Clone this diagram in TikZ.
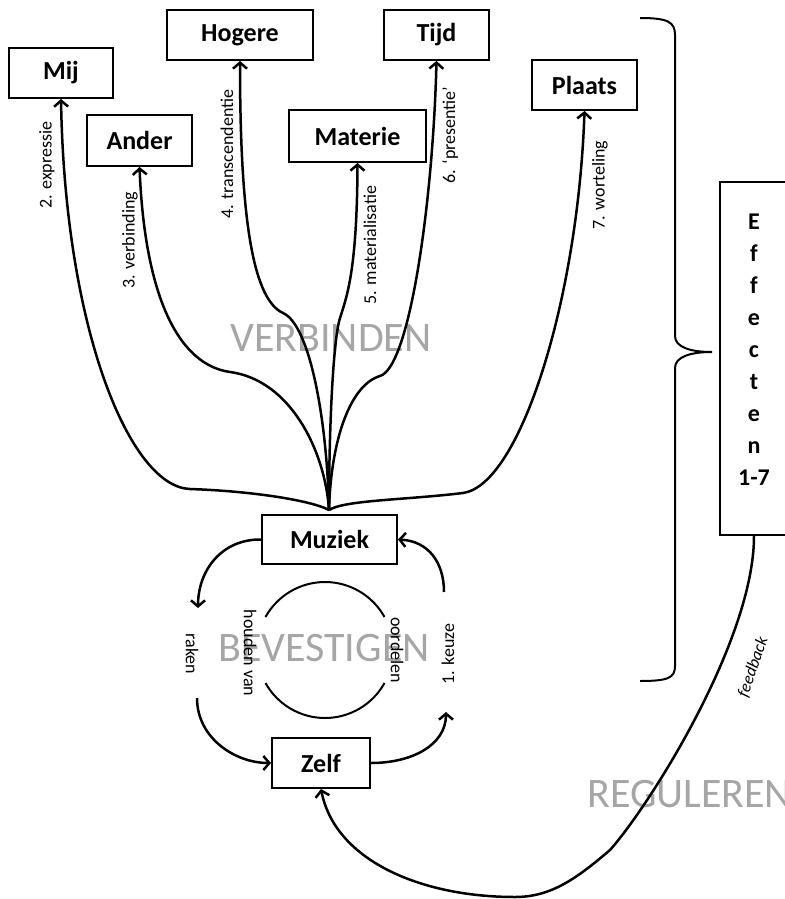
\documentclass[tikz,border=0pt]{standalone}
\usepackage{fontspec}
\setmainfont{Carlito}
\usetikzlibrary{arrows.meta}
\definecolor{biggray}{HTML}{A6A6A6}
\begin{document}
\begin{tikzpicture}[x=1pt,y=-1pt,
  box/.style={draw,line width=2pt,inner sep=0pt,font=\fontsize{26}{30}\selectfont\bfseries},
  lbl/.style={font=\fontsize{18}{20}\selectfont,inner sep=0pt},
  fblbl/.style={font=\fontsize{17}{20}\selectfont\itshape,inner sep=0pt},
  big/.style={font=\fontsize{42}{48}\selectfont,text=biggray,inner sep=0pt},
  conn/.style={line width=2.5pt},
  arr/.style={conn,-{Straight Barb[length=6pt,width=14pt]}},
  thinline/.style={line width=2pt}
]
\useasboundingbox (0,0) rectangle (784,899);

% background words
\node[big] (verb) at (331,338) {VERBINDEN};
\node[big] (bev) at (324,648) {BEVESTIGEN};
\node[big,anchor=west] (reg) at (587,794) {REGULEREN};

% boxes
\node[box,minimum width=104pt,minimum height=50pt] (mij) at (61,73) {Mij};
\node[box,minimum width=146pt,minimum height=50pt] (hogere) at (240,35) {Hogere};
\node[box,minimum width=105pt,minimum height=51pt] (ander) at (139.5,140.5) {Ander};
\node[box,minimum width=137pt,minimum height=52pt] (materie) at (357.5,136) {Materie};
\node[box,minimum width=105pt,minimum height=50pt] (tijd) at (436.5,35) {Tijd};
\node[box,minimum width=105pt,minimum height=50pt] (plaats) at (584.5,85) {Plaats};
\node[box,minimum width=135pt,minimum height=49pt] (muziek) at (329.5,539.5) {Muziek};
\node[box,minimum width=98pt,minimum height=50pt] (zelf) at (321,763) {Zelf};

% effecten box
\node[draw,line width=2pt,inner sep=0pt,minimum width=80pt,minimum height=353pt] (eff) at (760,358.5) {};
\node[font=\fontsize{24}{32}\selectfont\bfseries,align=center,inner sep=0pt] (efftext) at (754,350)
  {E\\f\\f\\e\\c\\t\\e\\n\\1-7};

% brace
\draw[thinline] (640,18) .. controls (668,18) and (675,22) .. (675,35) -- (675,336)
  .. controls (675,347) and (690,352) .. (712,352)
  .. controls (690,352) and (675,357) .. (675,368) -- (675,666)
  .. controls (675,678) and (668,681) .. (640,681);

% hub connectors
\coordinate (hub) at (329,510);
\draw[arr] (hub) .. controls (310,500) and (250,491) .. (190,489) .. controls (130,487) and (65,330) .. (mij.south);
\draw[arr] (hub) .. controls (325,450) and (290,380) .. (230,372) .. controls (180,365) and (145,300) .. (ander.south);
\draw[arr] (hub) .. controls (327,420) and (310,325) .. (283,313) .. controls (255,300) and (240,230) .. (hogere.south);
\draw[arr] (hub) .. controls (329,430) and (333,340) .. (340,318) .. controls (347,296) and (357,270) .. (materie.south);
\draw[arr] (hub) .. controls (331,440) and (350,385) .. (380,376) .. controls (410,367) and (433,200) .. (tijd.south);
\draw[arr] (hub) .. controls (345,500) and (405,500) .. (463,493) .. controls (520,485) and (578,300) .. (plaats.south);

% connector labels
\node[lbl,rotate=90] (l2) at (47,165) {2. expressie};
\node[lbl,rotate=90] (l3) at (130,240) {3. verbinding};
\node[lbl,rotate=90] (l4) at (227,154) {4. transcendentie};
\node[lbl,rotate=90] (l5) at (370,245) {5. materialisatie};
\node[lbl,rotate=90] (l6) at (450,135) {6. ‘presentie’};
\node[lbl,rotate=90] (l7) at (600,185) {7. worteling};

% cycle
\coordinate (rakTop) at (198,608);
\coordinate (rakBot) at (197,698);
\coordinate (keuTop) at (444,592);
\coordinate (keuBot) at (446,712);
\draw[arr] (muziek.west) .. controls (222,539) and (198,570) .. (rakTop);
\draw[arr] (rakBot) .. controls (197,738) and (235,763) .. (zelf.west);
\draw[arr] (zelf.east) .. controls (412,763) and (446,745) .. (keuBot);
\draw[arr] (keuTop) .. controls (444,562) and (428,541) .. (muziek.east);

% inner arcs
\draw[thinline] (265.5,617) .. controls (277.5,595.4) and (300.3,582) .. (325,582)
  .. controls (349.7,582) and (372.5,595.4) .. (384.5,617);
\draw[thinline] (265.5,683) .. controls (277.5,704.6) and (300.3,718) .. (325,718)
  .. controls (349.7,718) and (372.5,704.6) .. (384.5,683);

\node[lbl,rotate=-90] (raken) at (192,654) {raken};
\node[lbl,rotate=-90] (houden) at (250,653) {houden van};
\node[lbl,rotate=-90] (oordelen) at (397,650) {oordelen};
\node[lbl,rotate=90] (keuze) at (448,654) {1. keuze};

% feedback
\draw[arr] (eff.south -| efftext.center) .. controls (754,640) and (650,805) .. (610,850)
  .. controls (575,880) and (550,897) .. (515,897)
  .. controls (420,897) and (335,860) .. (zelf.south);
\node[fblbl,rotate=71] (fb) at (753,667) {feedback};
\end{tikzpicture}
\end{document}
